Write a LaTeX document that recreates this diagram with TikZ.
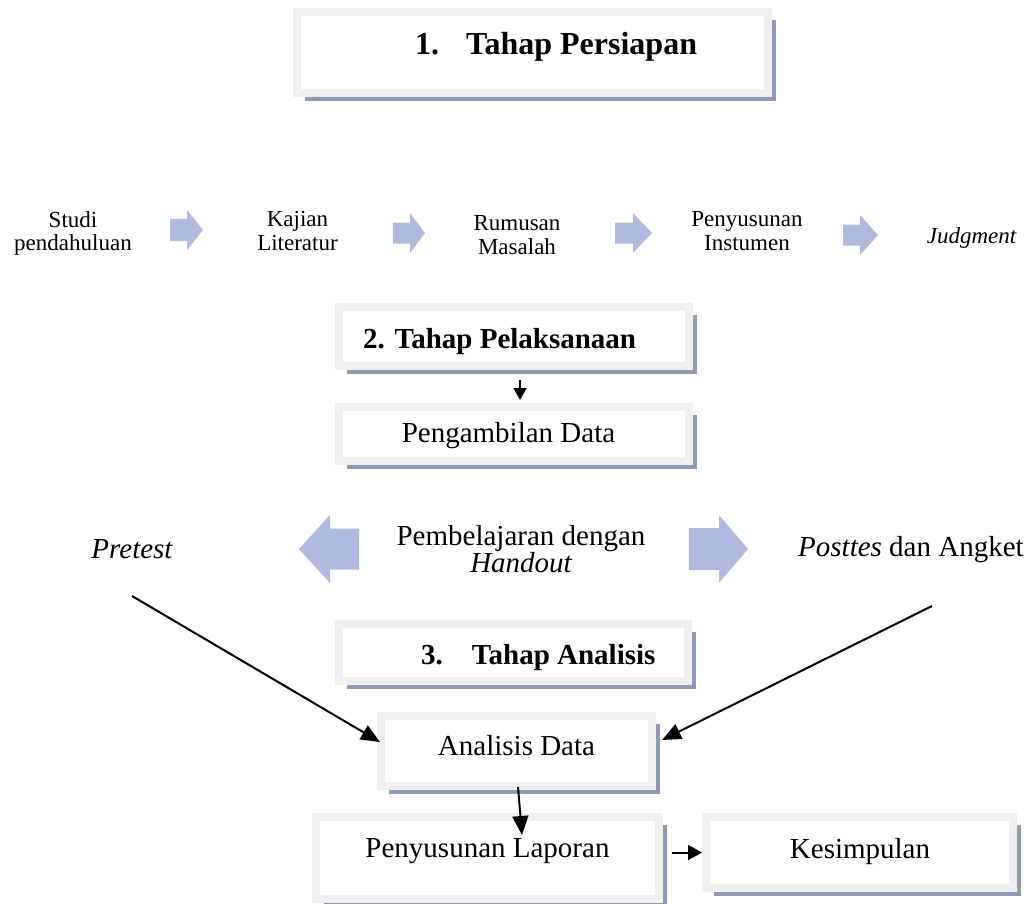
\documentclass[tikz,border=0pt]{standalone}
\usepackage{fontspec}
\setmainfont{Liberation Serif}
\usetikzlibrary{arrows.meta,shadows,calc}
\definecolor{boxgray}{RGB}{240,240,240}
\definecolor{shadowc}{RGB}{143,155,182}
\definecolor{arrowc}{RGB}{175,187,222}
\newcommand\myblockarrow[6]{%
  \fill[arrowc] (#1,#4-#5) -- (#2,#4-#5) -- (#2,#4-#6) -- (#3,#4) -- (#2,#4+#6) -- (#2,#4+#5) -- (#1,#4+#5) -- cycle;}
\begin{document}
\begin{tikzpicture}[x=1pt,y=-1pt,
  stage/.style={draw=boxgray, line width=8pt, fill=white, inner sep=0pt,
    drop shadow={shadow xshift=8pt, shadow yshift=-8pt, fill=shadowc, opacity=1}},
  txt/.style={inner sep=0pt, font=\fontsize{29}{27}\selectfont},
  ttl/.style={inner sep=0pt, font=\fontsize{29}{27}\selectfont\bfseries},
  small/.style={inner sep=0pt, align=center, font=\fontsize{23}{23.5}\selectfont},
  arr/.style={line width=2pt, -{Triangle[length=19pt,width=16pt]}}
]
\useasboundingbox (0,0) rectangle (1033,904);

% boxes
\node[stage, minimum width=471pt, minimum height=81pt] (B1) at (532.5,52.5) {};
\node[stage, minimum width=350pt, minimum height=59pt] (B2) at (514,336.5) {};
\node[stage, minimum width=350pt, minimum height=54pt] (B3) at (514,434) {};
\node[stage, minimum width=349pt, minimum height=57pt] (B4) at (513.5,652.5) {};
\node[stage, minimum width=271pt, minimum height=70pt] (B5) at (516.5,751) {};
\node[stage, minimum width=343pt, minimum height=82pt] (B6) at (487.5,858) {};
\node[stage, minimum width=307pt, minimum height=71pt] (B7) at (859.5,852.5) {};

% box texts
\node[ttl, font=\fontsize{32}{36}\selectfont\bfseries, anchor=base west] (t1) at (415,55) {1.\hspace{27pt}Tahap Persiapan};
\node[ttl, anchor=base west] (t2) at (363,348) {2. Tahap Pelaksanaan};
\node[txt, anchor=base] (t3) at (508.5,442) {Pengambilan Data};
\node[ttl, anchor=base west] (t4) at (421,664) {3.\hspace{29pt}Tahap Analisis};
\node[txt, anchor=base] (t5) at (516.5,755) {Analisis Data};
\node[txt, anchor=base] (t6) at (487.5,857) {Penyusunan Laporan};
\node[txt, anchor=base] (t7) at (860,858) {Kesimpulan};

% first row
\node[small, anchor=north] (s1) at (73,211) {Studi\\pendahuluan};
\node[small, anchor=north] (s2) at (297.5,211.5) {Kajian\\Literatur};
\node[small, anchor=north] (s3) at (517,215.5) {Rumusan\\Masalah};
\node[small, anchor=north] (s4) at (747,211.5) {Penyusunan\\Instumen};
\node[small, anchor=base] (s5) at (971.5,243) {\itshape Judgment};
\myblockarrow{170}{187}{203}{230}{11}{20}
\myblockarrow{393}{410}{425}{233}{10.5}{20}
\myblockarrow{615}{633}{652}{233}{10.5}{20}
\myblockarrow{843}{860}{878}{235}{10.5}{20}

% middle row
\node[txt, anchor=base] (pre) at (132,558) {\itshape Pretest};
\node[txt, anchor=north, align=center] (pem) at (521,525) {Pembelajaran dengan\\\itshape Handout};
\node[txt, anchor=base west] (post) at (798,556) {\textit{Posttes} dan Angket};
\myblockarrow{359}{330}{299}{549}{20.5}{34}
\myblockarrow{689}{719}{748}{549}{21}{34}

% connectors
\coordinate (preS) at (132,596);
\coordinate (postS) at (932,606);
\draw[arr] (preS) -- ($(B5.west)+(3,-9)$);
\draw[arr] (postS) -- ($(B5.east)+(6,-11)$);
\draw[line width=2pt, -{Triangle[length=12pt,width=13pt]}] ([xshift=6pt,yshift=-10pt]B2.south) -- ([xshift=6pt,yshift=3pt]B3.north);
\draw[arr] ($(B5.south)+(1.5,-3)$) -- ($(B6.north)+(34.5,22)$);
\draw[line width=2pt, -{Triangle[length=14pt,width=15pt]}] ([xshift=9pt]B6.east |- B7.west) -- (B7.west);
\end{tikzpicture}
\end{document}
